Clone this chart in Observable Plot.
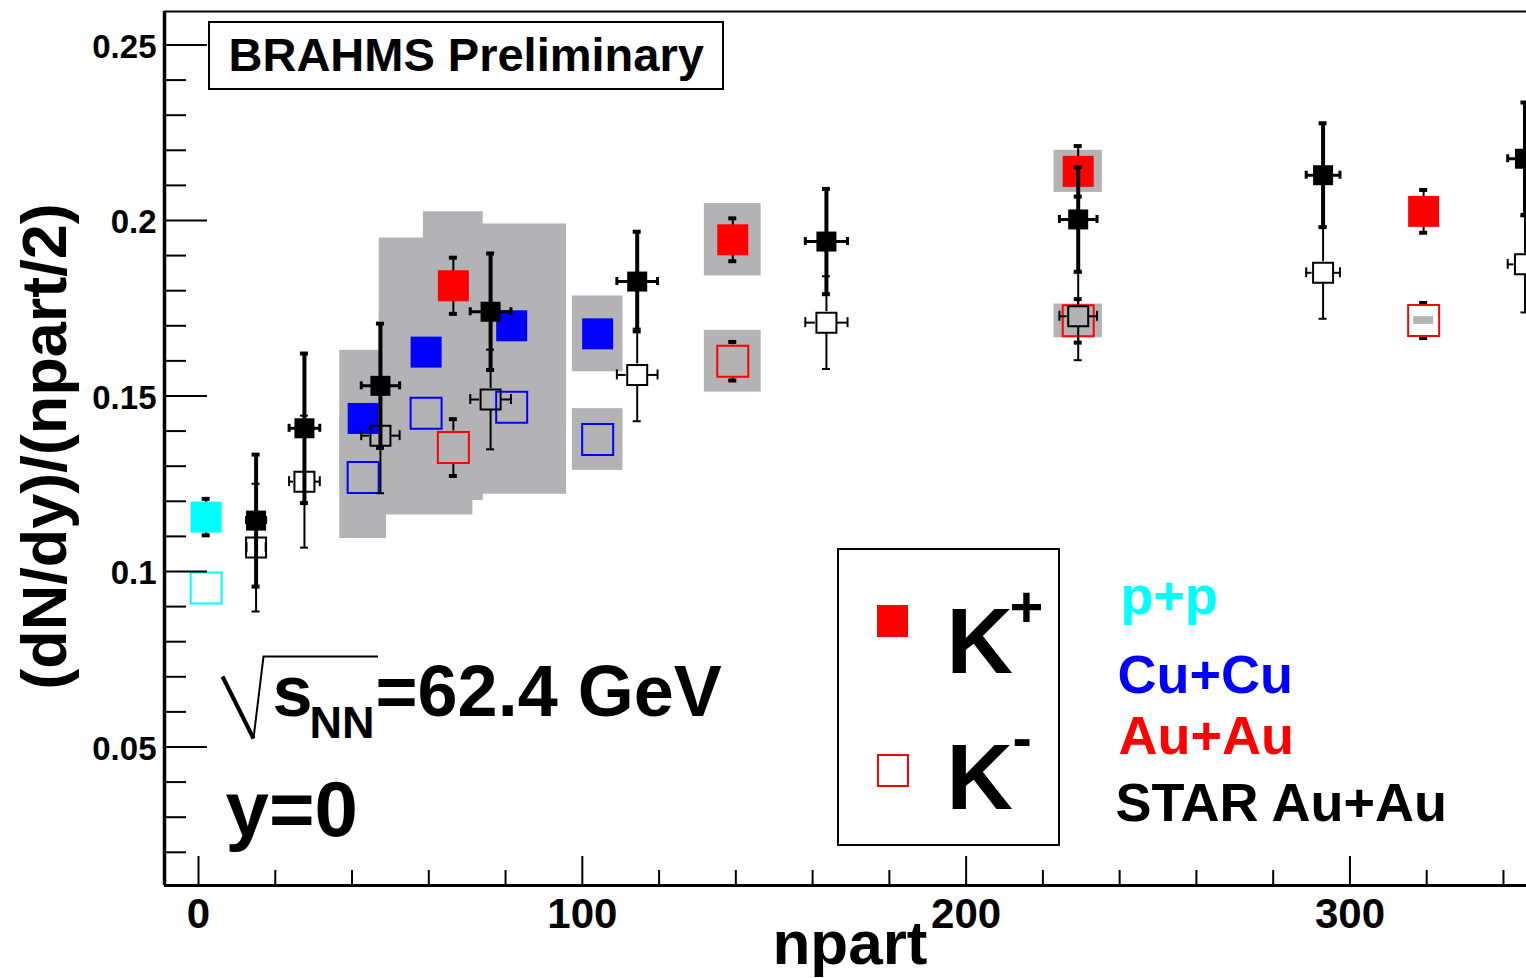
<!DOCTYPE html>
<html>
<head>
<meta charset="utf-8">
<script src="https://cdn.jsdelivr.net/npm/d3@7"></script>
<script src="https://cdn.jsdelivr.net/npm/@observablehq/plot@0.6"></script>
<style>
  html, body { margin: 0; padding: 0; background: #fff; }
  #chart { width: 1526px; height: 978px; }
</style>
</head>
<body>
<div id="chart"></div>
<script>
// ---------------- DATA ----------------
// STAR Au+Au 62.4 GeV (black)
const starNpart      = [15.0, 27.6, 47.4, 76.1, 114.3, 163.6, 229.2, 293.0, 345.6];
const starNpartErr   = [2.5, 4.0, 5.0, 5.3, 5.3, 5.5, 4.9, 4.4, 4.5];
const starKplus      = [0.1145, 0.1408, 0.1529, 0.1740, 0.1826, 0.1940, 0.2003, 0.2129, 0.2176];
const starKplusErr   = [0.0188, 0.0213, 0.0177, 0.0166, 0.0142, 0.0150, 0.0149, 0.0148, 0.0160];
const starKminus     = [0.1068, 0.1256, 0.1387, 0.1490, 0.1560, 0.1709, 0.1727, 0.1851, 0.1875];
const starKminusErr  = [0.0182, 0.0188, 0.0164, 0.0142, 0.0132, 0.0132, 0.0125, 0.0131, 0.0137];

// BRAHMS Cu+Cu (blue)
const cuNpart        = [42.9, 59.3, 81.6, 104.0];
const cuNpartSys     = [6.1, 12.2, 14.3, 6.6];
const cuKplus        = [0.1436, 0.1625, 0.1700, 0.1677];
const cuKplusSys     = [0.0194, 0.0325, 0.0290, 0.0108];
const cuKminus       = [0.1268, 0.1451, 0.1468, 0.1376];
const cuKminusSys    = [0.0174, 0.0290, 0.0248, 0.0088];

// BRAHMS Au+Au (red)
const auNpart        = [66.4, 139.2, 229.2, 319.2];
const auNpartSys     = [7.8, 7.4, 6.3, 2.6];
const auKplus        = [0.1814, 0.1945, 0.2140, 0.2026];
const auKplusErr     = [0.0080, 0.0061, 0.0072, 0.0061];
const auKplusSys     = [0.0211, 0.0103, 0.0060, 0.0030];
const auKminus       = [0.1353, 0.1599, 0.1714, 0.1715];
const auKminusErr    = [0.0081, 0.0055, 0.0062, 0.0050];
const auKminusSys    = [0.0151, 0.0088, 0.0048, 0.0011];

// BRAHMS p+p (cyan)
const ppNpart        = [2];
const ppKplus        = [0.1155];
const ppKplusErr     = [0.0052];
const ppKminus       = [0.0953];
const ppKminusErr    = [0.0];

// Axis ticks
const xMajorTicks = [0, 100, 200, 300];
const xMinorTicks = [20, 40, 60, 80, 120, 140, 160, 180, 220, 240, 260, 280, 320, 340];
const yMajorTicks = [0.05, 0.1, 0.15, 0.2, 0.25];
const yMajorLabels = ["0.05", "0.1", "0.15", "0.2", "0.25"];
const yMinorTicks = [0.02, 0.03, 0.04, 0.06, 0.07, 0.08, 0.09, 0.11, 0.12, 0.13, 0.14,
                     0.16, 0.17, 0.18, 0.19, 0.21, 0.22, 0.23, 0.24];

// ---------------- LAYOUT ----------------
const W = 1526, H = 978;
const mL = 164, mR = 0, mT = 11, mB = 93;
const xDomain = [-8.86, 346.0];
const yDomain = [0.01054, 0.25954];
const plotW = W - mL - mR, plotH = H - mT - mB;
const pxPerX = plotW / (xDomain[1] - xDomain[0]);
const pxPerY = plotH / (yDomain[1] - yDomain[0]);

const GRAY = "#b3b2b5";
const CYAN = "#00ffff", BLUE = "#0000ff", RED = "#ff0000";
const FONT = "'Liberation Sans', Arial, Helvetica, sans-serif";

// tables
const star = starNpart.map((n, i) => ({n, ne: starNpartErr[i], kp: starKplus[i], kpe: starKplusErr[i], km: starKminus[i], kme: starKminusErr[i]}));
const cu = cuNpart.map((n, i) => ({n, ns: cuNpartSys[i], kp: cuKplus[i], kps: cuKplusSys[i], km: cuKminus[i], kms: cuKminusSys[i]}));
const au = auNpart.map((n, i) => ({n, ns: auNpartSys[i], kp: auKplus[i], kpe: auKplusErr[i], kps: auKplusSys[i], km: auKminus[i], kme: auKminusErr[i], kms: auKminusSys[i]}));
const pp = ppNpart.map((n, i) => ({n, kp: ppKplus[i], kpe: ppKplusErr[i], km: ppKminus[i], kme: ppKminusErr[i]}));

// vertical error bar (with optional gap around hollow marker) + caps
function vErr(data, vy, ve, {sw = 2, capW = 4, capSW = 3, gap = 0} = {}) {
  const marks = [];
  if (gap === 0) {
    marks.push(Plot.ruleX(data, {x: "n", y1: d => vy(d) + ve(d), y2: d => vy(d) - ve(d), stroke: "black", strokeWidth: sw}));
  } else {
    const vis = data.filter(d => ve(d) * pxPerY > gap);
    marks.push(Plot.ruleX(vis, {x: "n", y1: d => vy(d) + ve(d), y2: d => vy(d), insetBottom: gap, stroke: "black", strokeWidth: sw}));
    marks.push(Plot.ruleX(vis, {x: "n", y1: d => vy(d), y2: d => vy(d) - ve(d), insetTop: gap, stroke: "black", strokeWidth: sw}));
  }
  const capped = data.filter(d => ve(d) * pxPerY > 1);
  marks.push(Plot.ruleY(capped, {x1: "n", x2: "n", y: d => vy(d) + ve(d), insetLeft: -capW, insetRight: -capW, stroke: "black", strokeWidth: capSW}));
  marks.push(Plot.ruleY(capped, {x1: "n", x2: "n", y: d => vy(d) - ve(d), insetLeft: -capW, insetRight: -capW, stroke: "black", strokeWidth: capSW}));
  return marks;
}
// horizontal error bar + caps
function hErr(data, vy, {sw = 2, capH = 4, capSW = 2, gap = 0} = {}) {
  const marks = [];
  if (gap === 0) {
    marks.push(Plot.ruleY(data, {y: vy, x1: d => d.n - d.ne, x2: d => d.n + d.ne, stroke: "black", strokeWidth: sw}));
  } else {
    const vis = data.filter(d => d.ne * pxPerX > gap);
    marks.push(Plot.ruleY(vis, {y: vy, x1: d => d.n - d.ne, x2: "n", insetRight: gap, stroke: "black", strokeWidth: sw}));
    marks.push(Plot.ruleY(vis, {y: vy, x1: "n", x2: d => d.n + d.ne, insetLeft: gap, stroke: "black", strokeWidth: sw}));
  }
  marks.push(Plot.ruleX(data, {x: d => d.n - d.ne, y1: vy, y2: vy, insetTop: -capH, insetBottom: -capH, stroke: "black", strokeWidth: capSW}));
  marks.push(Plot.ruleX(data, {x: d => d.n + d.ne, y1: vy, y2: vy, insetTop: -capH, insetBottom: -capH, stroke: "black", strokeWidth: capSW}));
  return marks;
}
// text placed relative to the frame's top-left corner, baseline at (px, py)
function label(t, px, py, size, color = "black", extra = {}) {
  return Plot.text([t], {text: d => d, frameAnchor: "top-left", dx: px - mL, dy: py - mT,
    textAnchor: "start", lineAnchor: "bottom", fontSize: size, fontWeight: "bold", fill: color, fontFamily: FONT, ...extra});
}

const rBig = 31 / Math.sqrt(Math.PI);   // 31px squares
const rSmall = 20 / Math.sqrt(Math.PI); // 20px squares

const plot = Plot.plot({
  width: W, height: H,
  marginLeft: mL, marginRight: mR, marginTop: mT, marginBottom: mB,
  x: {domain: xDomain, axis: null},
  y: {domain: yDomain, axis: null},
  style: {background: "white", fontFamily: FONT, overflow: "hidden"},
  marks: [
    // systematic boxes
    Plot.rect(cu, {x1: d => d.n - d.ns, x2: d => d.n + d.ns, y1: d => d.kp - d.kps, y2: d => d.kp + d.kps, fill: GRAY}),
    Plot.rect(cu, {x1: d => d.n - d.ns, x2: d => d.n + d.ns, y1: d => d.km - d.kms, y2: d => d.km + d.kms, fill: GRAY}),
    Plot.rect(au, {x1: d => d.n - d.ns, x2: d => d.n + d.ns, y1: d => d.kp - d.kps, y2: d => d.kp + d.kps, fill: GRAY}),
    Plot.rect(au, {x1: d => d.n - d.ns, x2: d => d.n + d.ns, y1: d => d.km - d.kms, y2: d => d.km + d.kms, fill: GRAY}),

    // BRAHMS stat errors
    ...vErr(au, d => d.kp, d => d.kpe, {sw: 2, capW: 4, capSW: 4}),
    ...vErr(au, d => d.km, d => d.kme, {sw: 2, capW: 4, capSW: 4, gap: 16.5}),
    ...vErr(pp, d => d.kp, d => d.kpe, {sw: 2, capW: 4, capSW: 4}),
    ...vErr(pp, d => d.km, d => d.kme, {sw: 2, capW: 4, capSW: 4, gap: 16.5}),

    // BRAHMS markers
    Plot.dot(cu, {x: "n", y: "kp", symbol: "square", r: rBig, fill: BLUE, stroke: "none"}),
    Plot.dot(cu, {x: "n", y: "km", symbol: "square", r: rBig, fill: "none", stroke: BLUE, strokeWidth: 2}),
    Plot.dot(au, {x: "n", y: "kp", symbol: "square", r: rBig, fill: RED, stroke: "none"}),
    Plot.dot(au, {x: "n", y: "km", symbol: "square", r: rBig, fill: "none", stroke: RED, strokeWidth: 2}),
    Plot.dot(pp, {x: "n", y: "kp", symbol: "square", r: rBig, fill: CYAN, stroke: "none"}),
    Plot.dot(pp, {x: "n", y: "km", symbol: "square", r: rBig, fill: "none", stroke: CYAN, strokeWidth: 2}),

    // STAR K- (thin) and K+ (thick) errors
    ...vErr(star, d => d.km, d => d.kme, {sw: 2, capW: 4, capSW: 2, gap: 11}),
    ...hErr(star, d => d.km, {sw: 2, capH: 5, capSW: 2, gap: 11}),
    ...vErr(star, d => d.kp, d => d.kpe, {sw: 4, capW: 4, capSW: 4}),
    ...hErr(star, d => d.kp, {sw: 3, capH: 4, capSW: 3}),
    Plot.dot(star, {x: "n", y: "km", symbol: "square", r: rSmall, fill: "none", stroke: "black", strokeWidth: 2}),
    Plot.dot(star, {x: "n", y: "kp", symbol: "square", r: rSmall, fill: "black", stroke: "none"}),

    // axis ticks (inward)
    Plot.ruleY(yMajorTicks, {y: d => d, insetRight: plotW - 43, stroke: "black", strokeWidth: 2}),
    Plot.ruleY(yMinorTicks, {y: d => d, insetRight: plotW - 22, stroke: "black", strokeWidth: 2}),
    Plot.ruleX(xMajorTicks, {x: d => d, insetTop: plotH - 29, stroke: "black", strokeWidth: 2}),
    Plot.ruleX(xMinorTicks, {x: d => d, insetTop: plotH - 15, stroke: "black", strokeWidth: 2}),
    // frame
    Plot.ruleX([xDomain[0]], {x: d => d, stroke: "black", strokeWidth: 3.5}),
    Plot.ruleY([yDomain[0]], {y: d => d, stroke: "black", strokeWidth: 3}),
    Plot.ruleY([yDomain[1]], {y: d => d, stroke: "black", strokeWidth: 2}),

    // tick labels
    Plot.text(yMajorTicks, {y: d => d, text: (d, i) => yMajorLabels[i], frameAnchor: "left", dx: -8, dy: 2,
      textAnchor: "end", lineAnchor: "middle", fontSize: 33, fontWeight: "bold", fontFamily: FONT, fill: "black"}),
    Plot.text(xMajorTicks, {x: d => d, text: d => String(d), frameAnchor: "bottom", dy: 13,
      textAnchor: "middle", lineAnchor: "top", fontSize: 42, fontWeight: "bold", fontFamily: FONT, fill: "black"}),

    // axis titles
    label("npart", 927, 963, 62, "black", {textAnchor: "end"}),
    Plot.text(["(dN/dy)/(npart/2)"], {text: d => d, frameAnchor: "top-left", dx: 45 - mL, dy: 446 - mT,
      rotate: -90, textAnchor: "middle", lineAnchor: "middle", fontSize: 63, fontWeight: "bold", fontFamily: FONT, fill: "black"}),

    // annotations
    label("BRAHMS Preliminary", 228, 70, 47),
    label("s", 272, 715, 72),
    label("NN", 309, 737, 45),
    label("=62.4 GeV", 375, 715, 72),
    label("y=0", 225, 835, 78),
    label("K", 946, 672, 92),
    label("+", 1009, 626, 58),
    label("K", 946, 808, 92),
    label("-", 1012, 757, 58),
    label("p+p", 1120, 613, 54, CYAN),
    label("Cu+Cu", 1117, 692, 54, BLUE),
    label("Au+Au", 1118, 753, 54, RED),
    label("STAR Au+Au", 1115, 820, 54, "black")
  ]
});

// decorative boxes / radical sign
const svg = d3.select(plot);
svg.append("rect").attr("x", 209).attr("y", 22).attr("width", 514).attr("height", 67)
  .attr("fill", "none").attr("stroke", "black").attr("stroke-width", 2);
svg.append("rect").attr("x", 838).attr("y", 549).attr("width", 221).attr("height", 296)
  .attr("fill", "none").attr("stroke", "black").attr("stroke-width", 2);
svg.append("rect").attr("x", 877).attr("y", 605).attr("width", 31).attr("height", 32).attr("fill", RED);
svg.append("rect").attr("x", 878).attr("y", 755).attr("width", 30).attr("height", 31)
  .attr("fill", "none").attr("stroke", RED).attr("stroke-width", 2);
svg.append("path").attr("d", "M222.5,676.5 L253.5,738.5").attr("stroke", "black").attr("stroke-width", 4).attr("fill", "none");
svg.append("path").attr("d", "M253.5,738.5 L263.5,656.5 L378,656.5").attr("stroke", "black").attr("stroke-width", 2).attr("fill", "none");

document.getElementById("chart").appendChild(plot);
</script>
</body>
</html>
